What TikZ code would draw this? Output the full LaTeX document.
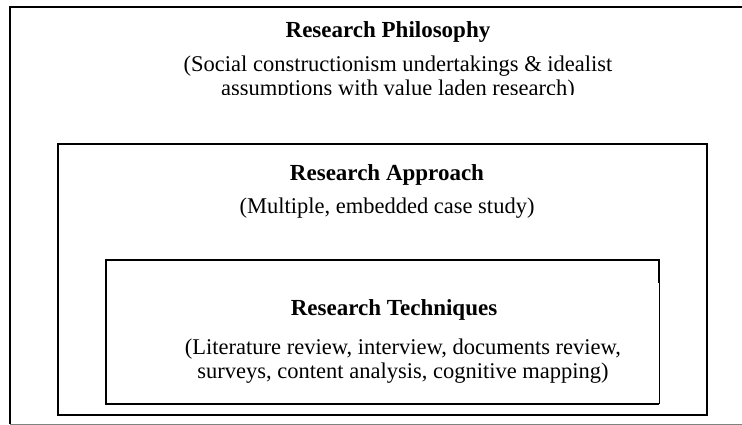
\documentclass[tikz,border=0pt]{standalone}
\usepackage{fontspec}
\setmainfont{Liberation Serif}
\begin{document}
\begin{tikzpicture}[
  x=1pt, y=-1pt,
  frame/.style={line width=2pt},
  head/.style={font=\fontsize{23}{24}\selectfont\bfseries, inner sep=0pt},
  note/.style={font=\fontsize{22.5}{24}\selectfont, align=center, inner sep=0pt}
]
\useasboundingbox (0,0) rectangle (742,425);

% outer frame, open on the right
\draw[frame] (742,7) -- (10,7) -- (10,424);
\draw[gray,line width=1pt] (10,424) -- (742,424);
% approach frame
\draw[frame] (58,144) rectangle (707,415);
% techniques frame
\draw[frame] (659,283) -- (659,260) -- (106,260) -- (106,404) -- (659,404);
\draw[line width=1pt] (659,283) -- (659,404);

% philosophy
\node[head] (philo) at (388,32) {Research Philosophy};
\begin{scope}
  \clip (0,0) rectangle (742,95);
  \node[note] (philotxt) at (398,78) {(Social constructionism undertakings \& idealist\\assumptions with value laden research)};
\end{scope}

% approach
\node[head] (appr) at (387,175) {Research Approach};
\node[note] (apprtxt) at (387,208) {(Multiple, embedded case study)};

% techniques
\node[head] (tech) at (394,310) {Research Techniques};
\node[note] (techtxt) at (403,361) {(Literature review, interview, documents review,\\surveys, content analysis, cognitive mapping)};
\end{tikzpicture}
\end{document}
